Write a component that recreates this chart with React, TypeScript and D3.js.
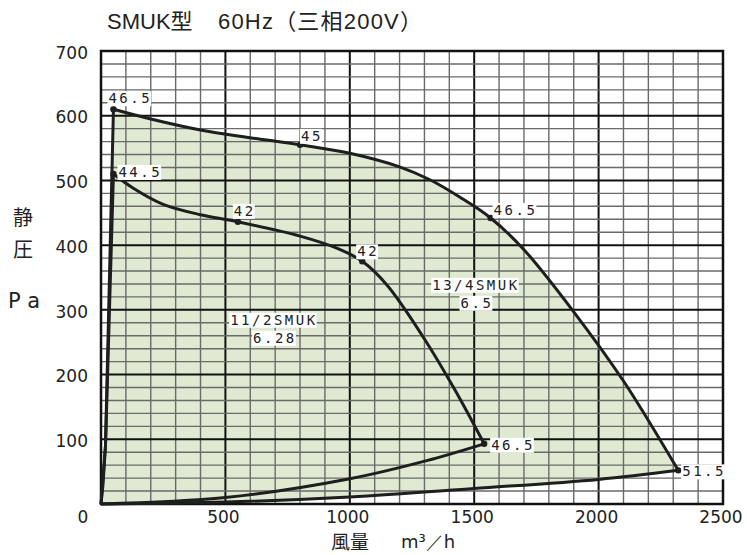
import React, {Component} from "react";
import * as d3 from "d3";

// axis ticks
const xTicks = [0, 500, 1000, 1500, 2000, 2500];
const yTicks = [100, 200, 300, 400, 500, 600, 700];

// 13/4SMUK  (upper fan curve)
const outerQ = [50, 200, 400, 600, 800, 1000, 1200, 1322, 1443, 1566, 1700, 1900, 2100, 2320];
const outerP = [610, 595, 578, 566, 555, 542, 521, 501, 474, 442, 393, 297, 190, 52];
// 11/2SMUK  (lower fan curve)
const innerQ = [50, 130, 250, 400, 550, 800, 950, 1050, 1150, 1300, 1420, 1540];
const innerP = [510, 488, 463, 447, 436, 414, 395, 375, 338, 255, 178, 93];
// left edge of the area
const leftQ = [0, 8, 18, 50];
const leftP = [0, 30, 90, 610];
// resistance curves
const sysOuterQ = [0, 500, 1000, 1500, 2000, 2320];
const sysOuterP = [0, 3, 11, 24, 38, 52];
const sysInnerQ = [0, 500, 1000, 1309, 1540];
const sysInnerP = [0, 10, 39, 67, 93];

// marked points with noise values
const markQ = [50, 800, 1566, 2320, 50, 550, 1050, 1540];
const markP = [610, 555, 442, 52, 510, 436, 375, 93];
const markText = ["46.5", "45", "46.5", "51.5", "44.5", "42", "42", "46.5"];
const markOffset = [[-5, -6], [1, -4], [3, -3], [4, 6], [5, 3], [-4, -6], [-5, -5], [7, 6]];

// model labels
const modelNames = ["13/4SMUK", "11/2SMUK"];
const modelPower = ["6.5", "6.28"];
const modelQ = [1507, 695];
const modelP = [331, 277];

const zip = (a: number[], b: number[]) => a.map((k, i) => [k, b[i]] as [number, number]);

class Chart extends Component<{}, {}> {
    svgRef = React.createRef<SVGSVGElement>();

    componentDidMount() {
        const svg: any = d3.select(this.svgRef.current);
        svg.selectAll("*").remove();
        const W = 747, H = 555;
        const x = d3.scaleLinear().domain([0, 2500]).range([101, 723]);
        const y = d3.scaleLinear().domain([0, 700]).range([504, 51]);

        svg.append("rect").attr("width", W).attr("height", H).attr("fill", "#fff");

        const lin = d3.line<[number, number]>().x(d => x(d[0])).y(d => y(d[1]));
        const smooth = d3.line<[number, number]>().x(d => x(d[0])).y(d => y(d[1])).curve(d3.curveCatmullRom.alpha(0.5));

        const left = zip(leftQ, leftP);
        const outer = zip(outerQ, outerP);
        const inner = zip(innerQ, innerP);
        const sysO = zip(sysOuterQ, sysOuterP);
        const sysI = zip(sysInnerQ, sysInnerP);

        // fill region
        const cont = (s: string | null) => (s || "").replace(/^M/, "L");
        const fillPath = (lin(left) || "") + cont(smooth(outer)) + cont(smooth(sysO.slice().reverse())) + "Z";
        svg.append("path").attr("d", fillPath).attr("fill", "#e0e9d2");

        // grid
        const g = svg.append("g");
        for (let v = 100; v < 2500; v += 100) {
            const major = v % 500 === 0;
            g.append("line").attr("x1", x(v)).attr("x2", x(v)).attr("y1", y(0)).attr("y2", y(700))
                .attr("stroke", major ? "#111" : "#6a6a6a").attr("stroke-width", major ? 2 : 1.4);
        }
        for (let v = 20; v < 700; v += 20) {
            const major = v % 100 === 0;
            g.append("line").attr("x1", x(0)).attr("x2", x(2500)).attr("y1", y(v)).attr("y2", y(v))
                .attr("stroke", major ? "#111" : "#6a6a6a").attr("stroke-width", major ? 2 : 1.4);
        }
        svg.append("rect").attr("x", x(0)).attr("y", y(700)).attr("width", x(2500) - x(0)).attr("height", y(0) - y(700))
            .attr("fill", "none").attr("stroke", "#111").attr("stroke-width", 2.5);

        // curves
        const stroke = (d: string | null) => svg.append("path").attr("d", d).attr("fill", "none")
            .attr("stroke", "#1e1e1e").attr("stroke-width", 3).attr("stroke-linejoin", "round");
        stroke(lin(left));
        stroke(lin([[0, 0], [18, 90], [50, 510]]));
        stroke(smooth(outer));
        stroke(smooth(inner));
        stroke(smooth(sysO));
        stroke(smooth(sysI));

        // labels with white boxes
        const labelFont = "'DejaVu Sans Mono', monospace";
        const boxed = (tx: number, ty: number, text: string, anchor: string) => {
            const gg = svg.append("g");
            const t = gg.append("text").attr("x", tx).attr("y", ty).attr("text-anchor", anchor)
                .attr("font-family", labelFont).attr("font-size", 14).attr("letter-spacing", 2.5)
                .attr("fill", "#222").text(text);
            const b = (t.node() as SVGTextElement).getBBox();
            gg.insert("rect", "text").attr("x", b.x - 1).attr("y", b.y + 1).attr("width", b.width)
                .attr("height", b.height - 1).attr("fill", "#fff");
        };

        markQ.forEach((q, i) => {
            svg.append("circle").attr("cx", x(q)).attr("cy", y(markP[i])).attr("r", 3.2).attr("fill", "#1e1e1e");
            boxed(x(q) + markOffset[i][0], y(markP[i]) + markOffset[i][1], markText[i], "start");
        });
        modelNames.forEach((n, i) => {
            boxed(x(modelQ[i]), y(modelP[i]), n, "middle");
            boxed(x(modelQ[i]) + 1, y(modelP[i]) + 18, modelPower[i], "middle");
        });

        // tick labels
        const tickFont = "'DejaVu Sans', sans-serif";
        xTicks.forEach(v => {
            svg.append("text").attr("x", v === 0 ? x(v) - 18 : x(v) - 2).attr("y", 523)
                .attr("text-anchor", "middle").attr("font-family", tickFont).attr("font-size", 17)
                .attr("fill", "#222").text(v);
        });
        yTicks.forEach(v => {
            svg.append("text").attr("x", 88).attr("y", y(v) + 7.7)
                .attr("text-anchor", "end").attr("font-family", tickFont).attr("font-size", 17)
                .attr("fill", "#222").text(v);
        });

        // titles
        const titleFont = "'Liberation Sans', 'Noto Sans CJK JP', sans-serif";
        svg.append("text").attr("x", 107).attr("y", 29).attr("font-family", titleFont)
            .attr("font-size", 22).attr("fill", "#222").text("SMUK型");
        svg.append("text").attr("x", 218).attr("y", 29).attr("font-family", titleFont)
            .attr("font-size", 22).attr("letter-spacing", 1.2).attr("fill", "#222").text("60Hz（三相200V）");
        const cjk = "'Noto Sans CJK JP', sans-serif";
        svg.append("text").attr("x", 23).attr("y", 225).attr("text-anchor", "middle").attr("font-family", cjk)
            .attr("font-size", 20).attr("fill", "#222").text("静");
        svg.append("text").attr("x", 23).attr("y", 257).attr("text-anchor", "middle").attr("font-family", cjk)
            .attr("font-size", 20).attr("fill", "#222").text("圧");
        svg.append("text").attr("x", 8).attr("y", 308).attr("font-family", tickFont)
            .attr("font-size", 21).attr("fill", "#222").text("P a");
        svg.append("text").attr("x", 331).attr("y", 549).attr("font-family", cjk)
            .attr("font-size", 19).attr("fill", "#222").text("風量");
        svg.append("text").attr("x", 401).attr("y", 548).attr("font-family", tickFont)
            .attr("font-size", 18).attr("fill", "#222").text("m³／h");
    }

    render() {
        return (
            <svg ref={this.svgRef} width={747} height={555}
                 style={{position: "absolute", left: 0, top: 0}}></svg>
        );
    }
}

export default function App() {
    return <Chart/>;
}
